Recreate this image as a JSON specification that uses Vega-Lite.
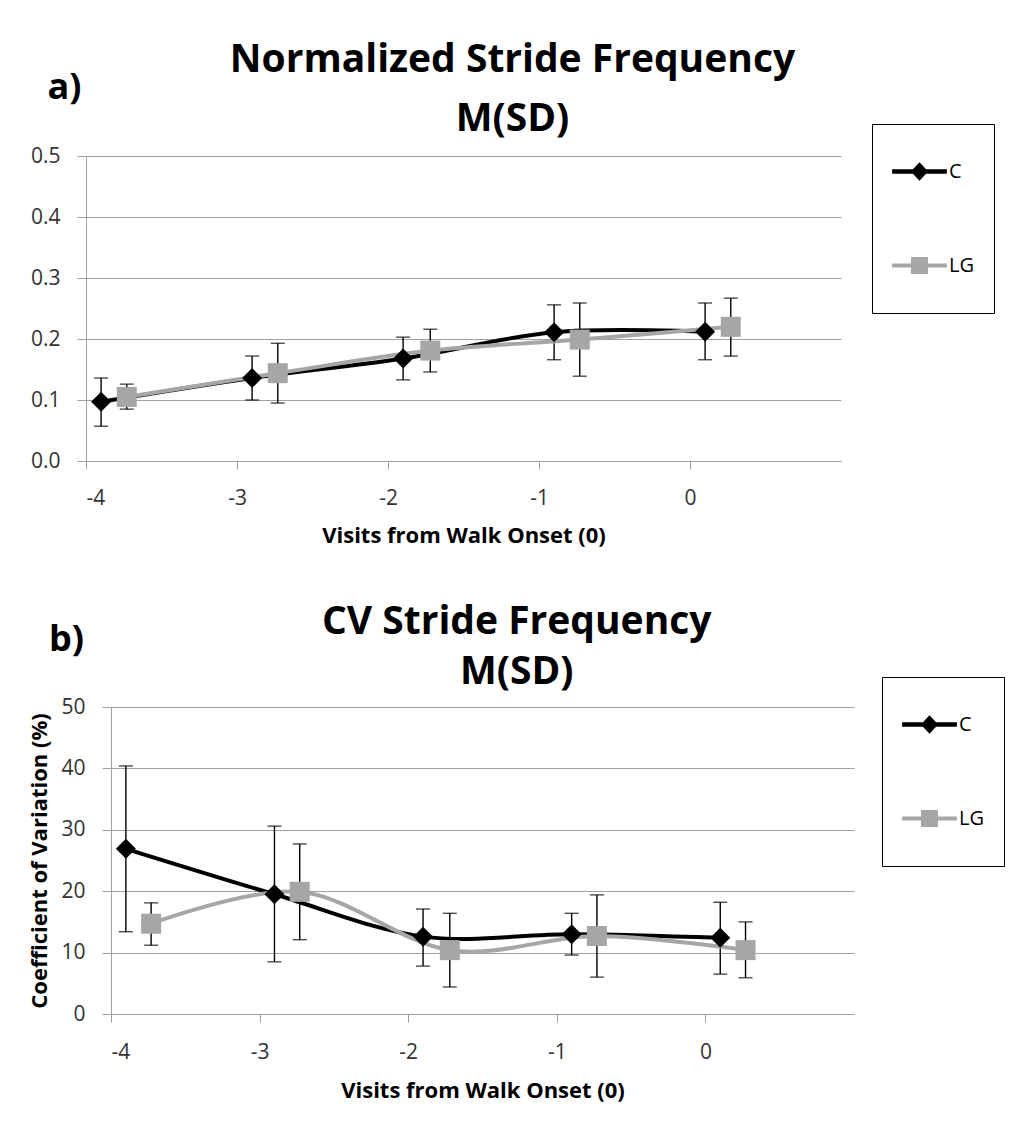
{
  "$schema": "https://vega.github.io/schema/vega-lite/v6.json",
  "padding": {"left": 28, "top": 41, "right": 0, "bottom": 6},
  "background": "white",
  "datasets": {
    "a": [
      {"series": "C", "x": -3.9, "mean": 0.097, "lo": 0.057, "hi": 0.136},
      {"series": "C", "x": -2.9, "mean": 0.136, "lo": 0.100, "hi": 0.172},
      {"series": "C", "x": -1.9, "mean": 0.168, "lo": 0.133, "hi": 0.203},
      {"series": "C", "x": -0.9, "mean": 0.211, "lo": 0.166, "hi": 0.256},
      {"series": "C", "x": 0.1, "mean": 0.212, "lo": 0.166, "hi": 0.259},
      {"series": "LG", "x": -3.73, "mean": 0.105, "lo": 0.085, "hi": 0.126},
      {"series": "LG", "x": -2.73, "mean": 0.144, "lo": 0.095, "hi": 0.193},
      {"series": "LG", "x": -1.72, "mean": 0.181, "lo": 0.146, "hi": 0.216},
      {"series": "LG", "x": -0.73, "mean": 0.199, "lo": 0.139, "hi": 0.259},
      {"series": "LG", "x": 0.27, "mean": 0.220, "lo": 0.172, "hi": 0.267}
    ],
    "b": [
      {"series": "C", "x": -3.9, "mean": 26.9, "lo": 13.4, "hi": 40.4},
      {"series": "C", "x": -2.9, "mean": 19.5, "lo": 8.5, "hi": 30.6},
      {"series": "C", "x": -1.9, "mean": 12.6, "lo": 7.8, "hi": 17.1},
      {"series": "C", "x": -0.9, "mean": 13.0, "lo": 9.6, "hi": 16.4},
      {"series": "C", "x": 0.1, "mean": 12.4, "lo": 6.5, "hi": 18.2},
      {"series": "LG", "x": -3.73, "mean": 14.7, "lo": 11.2, "hi": 18.1},
      {"series": "LG", "x": -2.73, "mean": 19.9, "lo": 12.1, "hi": 27.7},
      {"series": "LG", "x": -1.72, "mean": 10.4, "lo": 4.4, "hi": 16.4},
      {"series": "LG", "x": -0.73, "mean": 12.7, "lo": 6.0, "hi": 19.4},
      {"series": "LG", "x": 0.27, "mean": 10.4, "lo": 5.9, "hi": 15.0}
    ]
  },
  "vconcat": [
    {
      "width": 755,
      "height": 305,
      "data": {"name": "a"},
      "title": {"text": "Normalized Stride Frequency", "subtitle": "M(SD)", "offset": -70, "subtitlePadding": 20},
      "layer": [
        {
          "mark": {"type": "errorbar", "ticks": {"size": 14, "thickness": 1.4, "color": "black"}, "thickness": 1.4, "color": "black"},
          "encoding": {
            "x": {"field": "x", "type": "quantitative", "axis": null, "scale": {"domain": [-4, 1], "nice": false, "zero": false}},
            "y": {"field": "lo", "type": "quantitative", "scale": {"domain": [0, 0.5], "nice": false},
              "axis": {"values": [0, 0.1, 0.2, 0.3, 0.4, 0.5], "format": ".1f", "title": null, "grid": true, "tickSize": 9, "labelPadding": 17}},
            "y2": {"field": "hi"}
          }
        },
        {
          "mark": {"type": "line", "interpolate": "cardinal", "strokeWidth": 4},
          "encoding": {
            "x": {"field": "x", "type": "quantitative",
              "axis": {"values": [-4, -3, -2, -1, 0], "labelExpr": "toString(datum.value)", "grid": false, "tickSize": 8, "labelPadding": 18, "title": "Visits from Walk Onset (0)", "titlePadding": 17}},
            "y": {"field": "mean", "type": "quantitative"},
            "color": {"field": "series", "type": "nominal", "scale": {"domain": ["C", "LG"], "range": ["#000000", "#a6a6a6"]},
              "legend": {"orient": "none", "legendX": 786, "legendY": -32, "title": " ", "titleOrient": "bottom", "titleFontSize": 12, "titlePadding": 6,
                "symbolSize": 3000, "rowPadding": 56, "padding": 20,
                "strokeColor": "black", "fillColor": "white", "labelFontSize": 20, "labelColor": "black", "labelOffset": 2, "symbolStrokeWidth": 0,
                "encode": {"symbols": {"update": {
                  "shape": {"signal": "datum.value === 'C' ? 'M-1,-0.08L-0.24,-0.08L0,-0.34L0.24,-0.08L1,-0.08L1,0.08L0.24,0.08L0,0.34L-0.24,0.08L-1,0.08Z' : 'M-1,-0.07L-0.31,-0.07L-0.31,-0.31L0.31,-0.31L0.31,-0.07L1,-0.07L1,0.07L0.31,0.07L0.31,0.31L-0.31,0.31L-0.31,0.07L-1,0.07Z'"},
                  "fill": {"signal": "datum.value === 'C' ? '#000000' : '#a6a6a6'"},
                  "stroke": {"value": "transparent"},
                  "strokeWidth": {"value": 0},
                  "opacity": {"value": 1}
                }}}}}
          }
        },
        {
          "transform": [{"filter": "datum.series === 'C'"}],
          "mark": {"type": "point", "filled": true, "opacity": 1, "size": 400, "shape": "diamond", "color": "#000000"},
          "encoding": {
            "x": {"field": "x", "type": "quantitative",
              "axis": {"orient": "top", "title": "a)", "labels": false, "ticks": false, "domain": false, "grid": false,
                "titleX": -22, "titleY": -58, "titleAngle": 0, "titleAlign": "center", "titleBaseline": "alphabetic", "titleFontSize": 36}},
            "y": {"field": "mean", "type": "quantitative"}
          }
        },
        {
          "transform": [{"filter": "datum.series === 'LG'"}],
          "mark": {"type": "point", "filled": true, "opacity": 1, "size": 400, "shape": "square", "color": "#a6a6a6"},
          "encoding": {
            "x": {"field": "x", "type": "quantitative", "axis": null},
            "y": {"field": "mean", "type": "quantitative"}
          }
        }
      ],
      "resolve": {"axis": {"x": "independent"}}
    },
    {
      "hconcat": [
        {
          "width": 1,
          "height": 307,
          "data": {"values": [{"v": 0}]},
          "mark": {"type": "point", "opacity": 0}
        },
        {
          "width": 743,
          "height": 307,
          "data": {"name": "b"},
          "title": {"text": "CV Stride Frequency", "subtitle": "M(SD)", "offset": -71, "subtitlePadding": 11},
          "layer": [
            {
              "mark": {"type": "errorbar", "ticks": {"size": 14, "thickness": 1.4, "color": "black"}, "thickness": 1.4, "color": "black"},
              "encoding": {
                "x": {"field": "x", "type": "quantitative", "axis": null, "scale": {"domain": [-4, 1], "nice": false, "zero": false}},
                "y": {"field": "lo", "type": "quantitative", "scale": {"domain": [0, 50], "nice": false},
                  "axis": {"values": [0, 10, 20, 30, 40, 50], "format": "d", "title": "Coefficient of Variation (%)", "titlePadding": 9, "grid": true, "tickSize": 9, "labelPadding": 17}},
                "y2": {"field": "hi"}
              }
            },
            {
              "mark": {"type": "line", "interpolate": "cardinal", "strokeWidth": 4},
              "encoding": {
                "x": {"field": "x", "type": "quantitative",
                  "axis": {"values": [-4, -3, -2, -1, 0], "labelExpr": "toString(datum.value)", "grid": false, "tickSize": 8, "labelPadding": 19, "title": "Visits from Walk Onset (0)", "titlePadding": 18}},
                "y": {"field": "mean", "type": "quantitative"},
                "color": {"field": "series", "type": "nominal", "scale": {"domain": ["C", "LG"], "range": ["#000000", "#a6a6a6"]},
                  "legend": {"orient": "none", "legendX": 771, "legendY": -30, "title": " ", "titleOrient": "bottom", "titleFontSize": 12, "titlePadding": 6,
                    "symbolSize": 3000, "rowPadding": 56, "padding": 20,
                    "strokeColor": "black", "fillColor": "white", "labelFontSize": 20, "labelColor": "black", "labelOffset": 2, "symbolStrokeWidth": 0,
                    "encode": {"symbols": {"update": {
                      "shape": {"signal": "datum.value === 'C' ? 'M-1,-0.08L-0.24,-0.08L0,-0.34L0.24,-0.08L1,-0.08L1,0.08L0.24,0.08L0,0.34L-0.24,0.08L-1,0.08Z' : 'M-1,-0.07L-0.31,-0.07L-0.31,-0.31L0.31,-0.31L0.31,-0.07L1,-0.07L1,0.07L0.31,0.07L0.31,0.31L-0.31,0.31L-0.31,0.07L-1,0.07Z'"},
                      "fill": {"signal": "datum.value === 'C' ? '#000000' : '#a6a6a6'"},
                      "stroke": {"value": "transparent"},
                      "strokeWidth": {"value": 0},
                      "opacity": {"value": 1}
                    }}}}}
              }
            },
            {
              "transform": [{"filter": "datum.series === 'C'"}],
              "mark": {"type": "point", "filled": true, "opacity": 1, "size": 400, "shape": "diamond", "color": "#000000"},
              "encoding": {
                "x": {"field": "x", "type": "quantitative",
                  "axis": {"orient": "top", "title": "b)", "labels": false, "ticks": false, "domain": false, "grid": false,
                    "titleX": -45, "titleY": -57, "titleAngle": 0, "titleAlign": "center", "titleBaseline": "alphabetic", "titleFontSize": 36}},
                "y": {"field": "mean", "type": "quantitative"}
              }
            },
            {
              "transform": [{"filter": "datum.series === 'LG'"}],
              "mark": {"type": "point", "filled": true, "opacity": 1, "size": 400, "shape": "square", "color": "#a6a6a6"},
              "encoding": {
                "x": {"field": "x", "type": "quantitative", "axis": null},
                "y": {"field": "mean", "type": "quantitative"}
              }
            }
          ],
          "resolve": {"axis": {"x": "independent"}}
        }
      ],
      "bounds": "flush",
      "spacing": 24,
      "resolve": {"scale": {"color": "independent"}, "legend": {"color": "independent"}}
    }
  ],
  "spacing": 57,
  "resolve": {"scale": {"color": "independent"}, "legend": {"color": "independent"}},
  "config": {
    "font": "Open Sans",
    "view": {"stroke": null},
    "axis": {
      "labelFont": "Open Sans", "labelFontSize": 21, "labelColor": "#333333",
      "domainColor": "#a0a0a0", "tickColor": "#a0a0a0", "gridColor": "#a0a0a0",
      "domainWidth": 1, "tickWidth": 1, "gridWidth": 1,
      "titleFont": "Open Sans", "titleFontSize": 22, "titleFontWeight": "bold", "titleColor": "#000000"
    },
    "title": {
      "font": "Open Sans", "fontSize": 39, "fontWeight": "bold", "color": "#000000",
      "subtitleFont": "Open Sans", "subtitleFontSize": 39, "subtitleFontWeight": "bold", "subtitleColor": "#000000",
      "anchor": "middle", "frame": "bounds"
    },
    "legend": {"labelFont": "Open Sans"}
  }
}
